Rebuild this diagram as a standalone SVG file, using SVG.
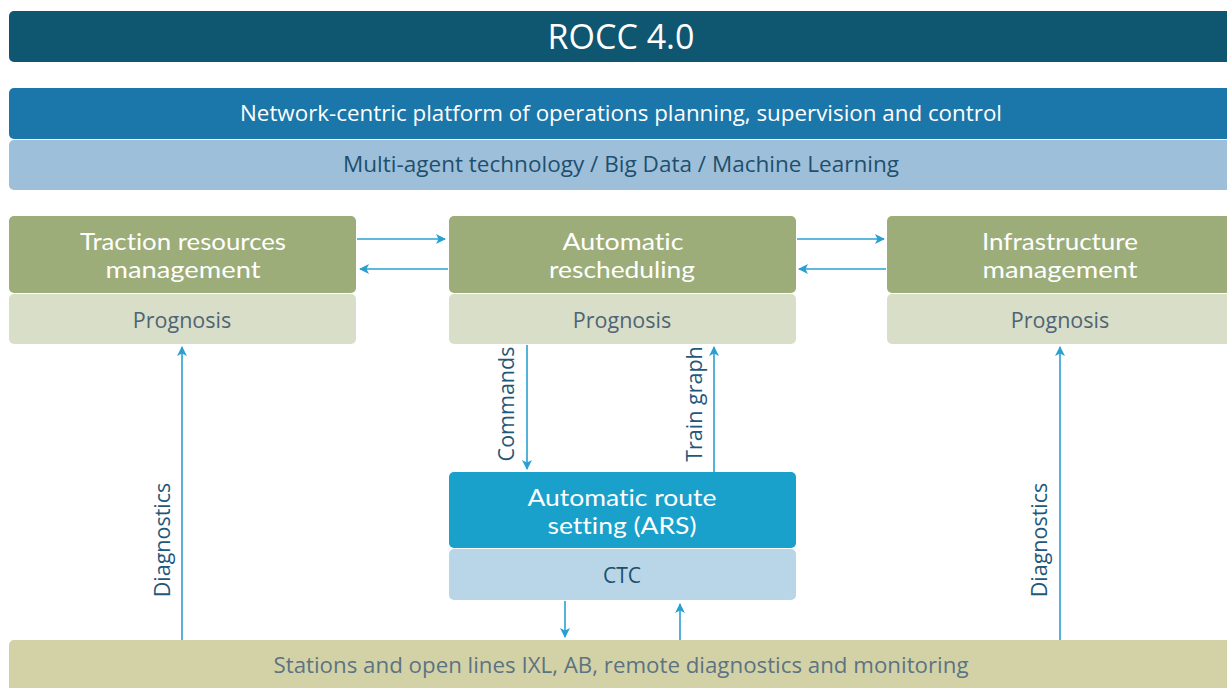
<svg xmlns="http://www.w3.org/2000/svg" width="1227" height="688" viewBox="0 0 1227 688">
<style>
text{font-family:"Open Sans","Liberation Sans",sans-serif;text-anchor:middle}
.w{fill:#ffffff}
.g{fill:#9cad79}
.p{fill:#d8dec7}
.pt{fill:#4f6476;font-size:21.5px}
.gt{fill:#ffffff;font-size:23px;font-family:Lato,"Open Sans",sans-serif;font-variant-ligatures:none;font-feature-settings:"liga" 0,"dlig" 0}
.c{stroke:#2aa0d2;stroke-width:1.6;fill:none}
.lbl{fill:#1f587a;font-size:21.5px}
</style>
<defs>
<marker id="ah" viewBox="0 0 10 10" refX="9" refY="5" markerWidth="10" markerHeight="10" markerUnits="userSpaceOnUse" orient="auto">
<path d="M0,0 L10,5 L0,10 L2.5,5 Z" fill="#2aa0d2"/>
</marker>
</defs>
<rect width="1227" height="688" fill="#ffffff"/>
<g id="rocc">
<rect x="9" y="11" width="1230" height="51" rx="5" fill="#0f5670"/>
<text x="621" y="49" class="w" style="font-size:34px">ROCC 4.0</text>
</g>
<g id="platform">
<rect x="9" y="88" width="1230" height="51" rx="5" fill="#1b76a9"/>
<text x="621" y="121" class="w" style="font-size:21px" textLength="762" lengthAdjust="spacingAndGlyphs">Network-centric platform of operations planning, supervision and control</text>
</g>
<g id="tech">
<rect x="9" y="140" width="1230" height="50" rx="5" fill="#9ebfda"/>
<text x="621" y="172" style="font-size:21px;fill:#1e4f6c" textLength="556" lengthAdjust="spacingAndGlyphs">Multi-agent technology / Big Data / Machine Learning</text>
</g>
<g id="traction">
<rect x="9" y="216" width="347" height="77" rx="5" class="g"/>
<text class="gt"><tspan x="183" y="250" textLength="206" lengthAdjust="spacingAndGlyphs">Traction resources</tspan><tspan x="183" y="277.7" textLength="155" lengthAdjust="spacingAndGlyphs">management</tspan></text>
<rect x="9" y="294" width="347" height="50" rx="5" class="p"/>
<text x="182" y="328" class="pt">Prognosis</text>
</g>
<g id="rescheduling">
<rect x="449" y="216" width="347" height="77" rx="5" class="g"/>
<text class="gt"><tspan x="623" y="250" textLength="121" lengthAdjust="spacingAndGlyphs">Automatic</tspan><tspan x="622" y="277.7" textLength="146" lengthAdjust="spacingAndGlyphs">rescheduling</tspan></text>
<rect x="449" y="294" width="347" height="50" rx="5" class="p"/>
<text x="622" y="328" class="pt">Prognosis</text>
</g>
<g id="infrastructure">
<rect x="887" y="216" width="350" height="77" rx="5" class="g"/>
<text class="gt"><tspan x="1060" y="250" textLength="156" lengthAdjust="spacingAndGlyphs">Infrastructure</tspan><tspan x="1060" y="277.7" textLength="155" lengthAdjust="spacingAndGlyphs">management</tspan></text>
<rect x="887" y="294" width="350" height="50" rx="5" class="p"/>
<text x="1060" y="328" class="pt">Prognosis</text>
</g>
<g id="ars">
<rect x="449" y="472" width="347" height="76" rx="5" fill="#19a0cb"/>
<text class="gt"><tspan x="622" y="506" textLength="189" lengthAdjust="spacingAndGlyphs">Automatic route</tspan><tspan x="622" y="533.7" textLength="149" lengthAdjust="spacingAndGlyphs">setting (ARS)</tspan></text>
<rect x="449" y="549" width="347" height="51" rx="5" fill="#b9d6e9"/>
<text x="622" y="583" style="font-size:21px;fill:#1d4e6a">CTC</text>
</g>
<g id="stations">
<rect x="9" y="640" width="1230" height="60" rx="5" fill="#d3d2a7"/>
<text x="621" y="673" style="font-size:21px;fill:#5d7383" textLength="695" lengthAdjust="spacingAndGlyphs">Stations and open lines IXL, AB, remote diagnostics and monitoring</text>
</g>
<g id="connectors">
<line x1="357" y1="239" x2="445" y2="239" class="c" marker-end="url(#ah)"/>
<line x1="448" y1="269" x2="360" y2="269" class="c" marker-end="url(#ah)"/>
<line x1="797" y1="239" x2="884" y2="239" class="c" marker-end="url(#ah)"/>
<line x1="886" y1="269" x2="799" y2="269" class="c" marker-end="url(#ah)"/>
<line x1="527" y1="345" x2="527" y2="469" class="c" marker-end="url(#ah)"/>
<line x1="714" y1="472" x2="714" y2="347" class="c" marker-end="url(#ah)"/>
<line x1="565" y1="601" x2="565" y2="637" class="c" marker-end="url(#ah)"/>
<line x1="680" y1="640" x2="680" y2="604" class="c" marker-end="url(#ah)"/>
<line x1="182" y1="640" x2="182" y2="347" class="c" marker-end="url(#ah)"/>
<line x1="1060" y1="640" x2="1060" y2="347" class="c" marker-end="url(#ah)"/>
<text transform="translate(514,404) rotate(-90)" class="lbl">Commands</text>
<text transform="translate(702,404) rotate(-90)" class="lbl">Train graph</text>
<text transform="translate(170,540) rotate(-90)" class="lbl">Diagnostics</text>
<text transform="translate(1047,540) rotate(-90)" class="lbl">Diagnostics</text>
</g>
</svg>
